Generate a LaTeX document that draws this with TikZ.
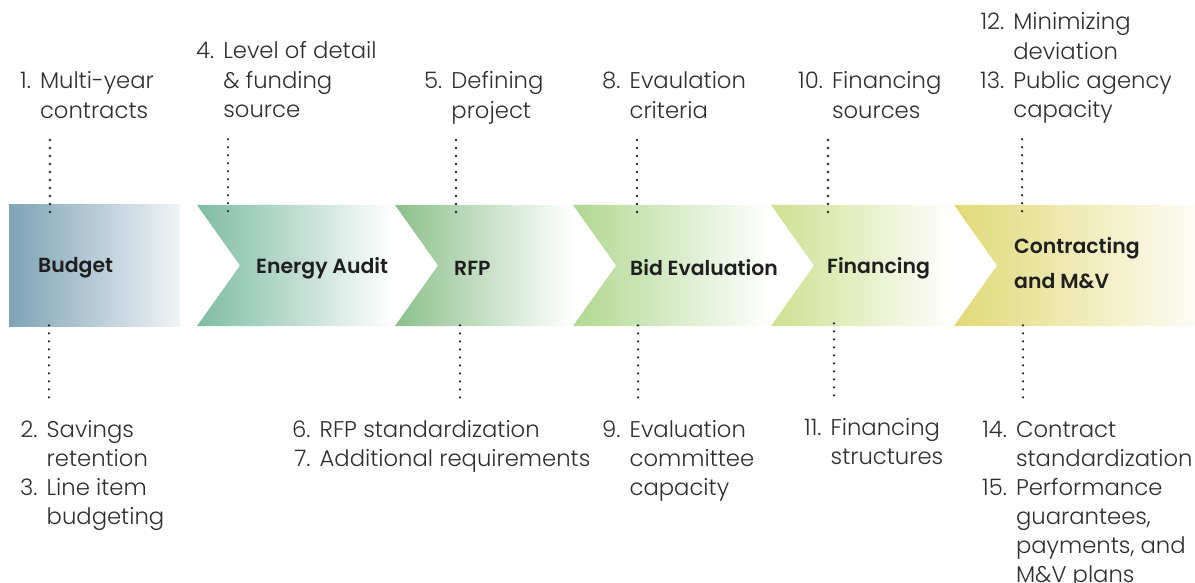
\documentclass[tikz,border=0pt]{standalone}
\usepackage{fontspec}
\setmainfont{Poppins}[UprightFont=* Light, BoldFont=* SemiBold]
\usetikzlibrary{positioning}

\definecolor{budgetblue}{HTML}{7FA3B6}
\definecolor{auditgreen}{HTML}{7FBCA4}
\definecolor{rfpgreen}{HTML}{8CC08A}
\definecolor{bidgreen}{HTML}{B0D890}
\definecolor{fingreen}{HTML}{CEE090}
\definecolor{contyellow}{HTML}{E1D977}

% numbered points with hanging second lines
\newcommand{\pointlist}[1]{\begin{tabular}[t]{@{}r@{\hspace{.4em}}l@{}}#1\end{tabular}}

\begin{document}
\begin{tikzpicture}[x=1bp,y=-1bp,
  stage/.style={font=\bfseries\fontsize{20.5}{35}\selectfont, text=black!88, anchor=west, align=left, inner sep=0pt},
  item/.style={font=\fontsize{22.8}{29.2}\selectfont, text=black!82, anchor=base west, inner sep=0pt},
  dots/.style={line width=2.6bp, line cap=round, dash pattern=on 0bp off 8bp, black!85}]
\useasboundingbox (0,0) rectangle (1195,583);

% the stages, each one fading out to the right
\shade[left color=budgetblue, right color=white!88!budgetblue] (9,205) rectangle (180,326);
\shade[left color=auditgreen, right color=white] (197,205) -- (240,265.5) -- (197,326) -- (395,326) -- (395,205) -- cycle;
\shade[left color=rfpgreen, right color=white] (395,205) -- (438,265.5) -- (395,326) -- (573,326) -- (573,205) -- cycle;
\shade[left color=bidgreen, right color=white] (573,205) -- (616,265.5) -- (573,326) -- (771,326) -- (771,205) -- cycle;
\shade[left color=fingreen, right color=white] (771,205) -- (814,265.5) -- (771,326) -- (954,326) -- (954,205) -- cycle;
\shade[left color=contyellow, right color=white!92!contyellow] (954,205) -- (997,265.5) -- (954,326) -- (1195,326) -- (1195,205) -- cycle;

\node[stage] (budget) at (38,268) {Budget};
\node[stage] (audit) at (256,268) {Energy Audit};
\node[stage] (rfp) at (454,268) {RFP};
\node[stage] (bid) at (630,268) {Bid Evaluation};
\node[stage] (fin) at (827,268) {Financing};
\node[stage] (contract) at (1014,263) {Contracting\\and M\&V};

% points above the bar
\node[item] (i1) at (20,89) {\pointlist{1.&Multi-year\\&contracts}};
\node[item] (i4) at (196,59) {\pointlist{4.&Level of detail\\&\& funding\\&source}};
\node[item] (i5) at (424,89) {\pointlist{5.&Defining\\&project}};
\node[item] (i8) at (602,89) {\pointlist{8.&Evaulation\\&criteria}};
\node[item] (i10) at (798,89) {\pointlist{10.&Financing\\&sources}};
\node[item] (i12) at (980,30) {\pointlist{12.&Minimizing\\&deviation\\13.&Public agency\\&capacity}};

% points below the bar
\node[item] (i2) at (20,437) {\pointlist{2.&Savings\\&retention\\3.&Line item\\&budgeting}};
\node[item] (i6) at (292,437) {\pointlist{6.&RFP standardization\\7.&Additional requirements}};
\node[item] (i9) at (602,437) {\pointlist{9.&Evaluation\\&committee\\&capacity}};
\node[item] (i11) at (804,435) {\pointlist{11.&Financing\\&structures}};
\node[item] (i14) at (982,437) {\pointlist{14.&Contract\\&standardization\\15.&Performance\\&guarantees,\\&payments, and\\&M\&V plans}};

% dotted leaders
\draw[dots] (i1.south west) ++(30,13) -- ++(0,80);
\draw[dots] (i4.south west) ++(32,13) -- ++(0,80);
\draw[dots] (i5.south west) ++(32,13) -- ++(0,80);
\draw[dots] (i8.south west) ++(35,13) -- ++(0,80);
\draw[dots] (i10.south west) ++(30,13) -- ++(0,80);
\draw[dots] (i12.south west) ++(42,13) -- ++(0,80);
\draw[dots] (i2.north west) ++(29,-19) -- ++(0,-80);
\draw[dots] (i6.north west) ++(168,-19) -- ++(0,-80);
\draw[dots] (i9.north west) ++(36,-19) -- ++(0,-80);
\draw[dots] (i11.north west) ++(30,-19) -- ++(0,-80);
\draw[dots] (i14.north west) ++(41,-19) -- ++(0,-80);
\end{tikzpicture}
\end{document}
